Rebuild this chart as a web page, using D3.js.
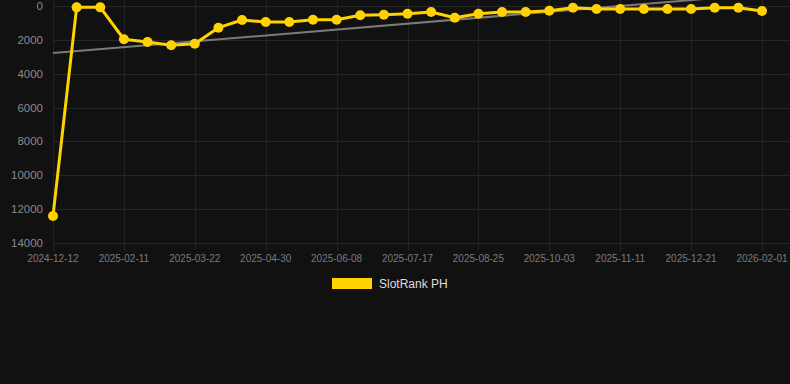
<!DOCTYPE html>
<html lang="en">
<head>
    <meta charset="utf-8">
    <title>SlotRank PH</title>
    <script type="text/javascript" src="https://d3js.org/d3.v7.min.js"></script>
    <style type="text/css">
        html, body { margin: 0; padding: 0; background: #111111; }
        svg { display: block; }
        text { font-family: "Liberation Sans", Arial, sans-serif; }
    </style>
</head>
<body>
<script type="text/javascript">

    // dates of each rank sample (category axis)
    var dates = [
        "2024-12-12", "2024-12-31", "2025-01-21", "2025-02-11", "2025-02-24", "2025-03-09",
        "2025-03-22", "2025-04-04", "2025-04-17", "2025-04-30", "2025-05-13", "2025-05-26",
        "2025-06-08", "2025-06-21", "2025-07-04", "2025-07-17", "2025-07-30", "2025-08-12",
        "2025-08-25", "2025-09-07", "2025-09-20", "2025-10-03", "2025-10-16", "2025-10-29",
        "2025-11-11", "2025-11-24", "2025-12-07", "2025-12-21", "2026-01-04", "2026-01-18",
        "2026-02-01"
    ];

    // rank values
    var ranks = [
        12400, 80, 80, 1965, 2125, 2320, 2225, 1280, 825, 945, 945, 810,
        810, 550, 515, 455, 355, 690, 455, 355, 355, 280, 100, 175,
        175, 175, 175, 175, 100, 100, 295
    ];

    var yTicks = [0, 2000, 4000, 6000, 8000, 10000, 12000, 14000];
    var seriesName = "SlotRank PH";

    var width = 790, height = 384;
    var plotLeft = 53, plotRight = 762, plotTop = 6, plotBottom = 243;

    var svg = d3.select("body").append("svg")
        .attr("width", width)
        .attr("height", height);

    svg.append("rect")
        .attr("width", width).attr("height", height)
        .attr("fill", "#111111");

    var x = d3.scalePoint().domain(dates).range([plotLeft, plotRight]);
    var y = d3.scaleLinear().domain([0, 14000]).range([plotTop, plotBottom]);

    // horizontal grid
    svg.append("g").selectAll("line")
        .data(yTicks)
        .enter().append("line")
        .attr("x1", plotLeft).attr("x2", width)
        .attr("y1", function(d) { return Math.round(y(d)) + 0.5; })
        .attr("y2", function(d) { return Math.round(y(d)) + 0.5; })
        .attr("stroke", "#262626")
        .attr("stroke-width", 1);

    // vertical grid only at labelled dates
    var shown = dates.filter(function(d, i) { return i % 3 === 0; });
    svg.append("g").selectAll("line")
        .data(shown)
        .enter().append("line")
        .attr("x1", function(d) { return Math.round(x(d)) + 0.5; })
        .attr("x2", function(d) { return Math.round(x(d)) + 0.5; })
        .attr("y1", 0).attr("y2", plotBottom + 8)
        .attr("stroke", "#222222")
        .attr("stroke-width", 1);

    // y axis labels
    svg.append("g").selectAll("text")
        .data(yTicks)
        .enter().append("text")
        .attr("x", 43)
        .attr("y", function(d) { return y(d); })
        .attr("dy", "0.35em")
        .attr("text-anchor", "end")
        .attr("font-size", "11.5px")
        .attr("fill", "#8a8a8a")
        .text(function(d) { return d; });

    // x axis labels
    svg.append("g").selectAll("text")
        .data(shown)
        .enter().append("text")
        .attr("x", function(d) { return x(d); })
        .attr("y", 262)
        .attr("text-anchor", "middle")
        .attr("font-size", "10px")
        .attr("fill", "#7a7a7a")
        .text(function(d) { return d; });

    // linear trend from least squares over the series
    var n = ranks.length;
    var mx = d3.mean(ranks, function(d, i) { return i; });
    var my = d3.mean(ranks);
    var sxy = d3.sum(ranks, function(d, i) { return (i - mx) * (d - my); });
    var sxx = d3.sum(ranks, function(d, i) { return (i - mx) * (i - mx); });
    var slope = sxy / sxx;
    var icpt = my - slope * mx;

    svg.append("line")
        .attr("x1", x(dates[0]))
        .attr("y1", y(icpt))
        .attr("x2", x(dates[n - 1]))
        .attr("y2", y(icpt + slope * (n - 1)))
        .attr("stroke", "#7a7a7a")
        .attr("stroke-width", 2);

    // main series
    var line = d3.line()
        .x(function(d, i) { return x(dates[i]); })
        .y(function(d) { return y(d); });

    svg.append("path")
        .datum(ranks)
        .attr("d", line)
        .attr("fill", "none")
        .attr("stroke", "#ffd200")
        .attr("stroke-width", 3)
        .attr("stroke-linejoin", "round");

    svg.append("g").selectAll("circle")
        .data(ranks)
        .enter().append("circle")
        .attr("cx", function(d, i) { return x(dates[i]); })
        .attr("cy", function(d) { return y(d); })
        .attr("r", 5)
        .attr("fill", "#ffd200");

    // legend
    var legend = svg.append("g").attr("transform", "translate(332,278)");
    legend.append("rect")
        .attr("width", 40).attr("height", 11)
        .attr("fill", "#ffd200");
    legend.append("text")
        .attr("x", 47).attr("y", 6)
        .attr("dy", "0.35em")
        .attr("font-size", "12px")
        .attr("fill", "#dddddd")
        .text(seriesName);

</script>
</body>
</html>
